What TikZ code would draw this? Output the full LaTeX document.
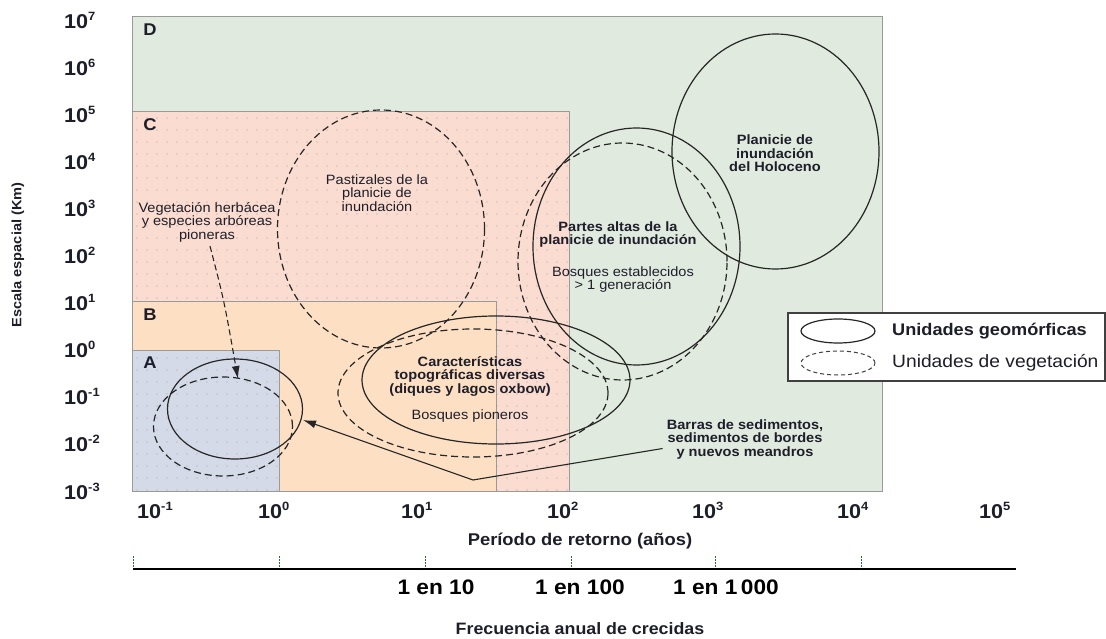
\documentclass[tikz,border=0pt]{standalone}
\usepackage{fontspec}
\setmainfont{Liberation Sans}[FakeStretch=1.08]
\usetikzlibrary{arrows.meta}
\definecolor{dgreen}{HTML}{E1EADF}
\definecolor{cpink}{HTML}{FBDCD0}
\definecolor{borange}{HTML}{FDE0C4}
\definecolor{ablue}{HTML}{D5DAE8}
\definecolor{edgec}{HTML}{9A9A9A}
\definecolor{ink}{HTML}{1E1E2A}
\definecolor{dotc}{HTML}{A89E9E}
\definecolor{tickc}{HTML}{2E6B3A}
\tikzset{
  txt/.style={text=ink, align=center, inner sep=0pt, font=\fontsize{13.5}{13.5}\selectfont},
  btxt/.style={text=ink, align=center, inner sep=0pt, font=\bfseries\fontsize{13.5}{13.5}\selectfont},
  zone/.style={draw=edgec, line width=1pt},
  zlet/.style={text=ink, inner sep=0pt, font=\bfseries\fontsize{17}{17}\selectfont},
  axl/.style={text=ink, inner sep=0pt, anchor=west, font=\bfseries\fontsize{20}{20}\selectfont},
  geo/.style={draw=black!85, line width=1.2pt},
  veg/.style={draw=black!85, line width=1.2pt, dash pattern=on 7pt off 4pt},
  arr/.style={-{Latex[length=13pt,width=8pt]}, draw=black!85, line width=1.1pt},
  ftick/.style={draw=tickc, line width=0.9pt, dash pattern=on 2pt off 1pt},
  botl/.style={text=black, inner sep=0pt, font=\bfseries\fontsize{21}{21}\selectfont}
}
\newcommand{\tenexp}[1]{10\raisebox{0.40em}{\fontsize{12}{12}\selectfont #1}}
\begin{document}
\begin{tikzpicture}[x=1pt,y=-1pt]
\useasboundingbox (0,0) rectangle (1106,639);
% zones
\fill[dgreen] (132,17) rectangle (882,491);
\fill[cpink] (132,112) rectangle (569,491);
\begin{scope}
\clip (132,112) rectangle (569,491);
\foreach \i in {0,...,44}{\foreach \j in {0,...,32}{\fill[dotc] (137+\i*10,118+\j*12) circle (0.6);}}
\end{scope}
\fill[borange] (132,301) rectangle (496,491);
\fill[ablue] (132,350) rectangle (279,491);
\begin{scope}
\clip (132,350) rectangle (279,491);
\foreach \i in {0,...,15}{\foreach \j in {0,...,12}{\fill[dotc] (137+\i*10,358+\j*12) circle (0.6);}}
\end{scope}
\draw[zone] (132,112) rectangle (569,491);
\draw[zone] (132,301) rectangle (496,491);
\draw[zone] (132,350) rectangle (279,491);
\draw[zone] (132,17) rectangle (882,491);
\node[zlet] (lD) at (150,30) {D};
\node[zlet] (lC) at (150,125) {C};
\node[zlet] (lB) at (150,315) {B};
\node[zlet] (lA) at (150,363) {A};
% y axis labels
\foreach \k [count=\n from 0] in {-3,-2,-1,0,1,2,3,4,5,6,7}{
  \node[axl] (y\n) at (64,{491-47.1*\n}) {\tenexp{\k}};
}
\node[text=ink, inner sep=0pt, rotate=90, font=\bfseries\fontsize{13.5}{13.5}\selectfont] (ytitle) at (18,255) {Escala espacial (Km)};
% x axis labels
\foreach \k/\xx [count=\n] in {-1/137,0/258,1/401,2/547,3/692,4/837,5/979}{
  \node[axl] (x\n) at (\xx,510) {\tenexp{\k}};
}
\node[text=ink, inner sep=0pt, font=\bfseries\fontsize{17}{17}\selectfont] (ptitle) at (580,541) {Período de retorno (años)};
% ellipses
\draw[geo] (235,409) ellipse [x radius=67.5pt, y radius=50pt];
\draw[veg] (223,426.5) ellipse [x radius=69.5pt, y radius=49.5pt];
\draw[veg] (381,229) ellipse [x radius=103.5pt, y radius=119pt];
\draw[geo] (496,380) ellipse [x radius=134pt, y radius=64pt];
\draw[veg] (473,393) ellipse [x radius=135pt, y radius=64pt];
\draw[geo] (636.5,246.5) ellipse [x radius=103.5pt, y radius=118.5pt];
\draw[veg] (622.5,261.5) ellipse [x radius=104.5pt, y radius=118.5pt];
\draw[geo] (775.5,151.5) ellipse [x radius=103.5pt, y radius=117.5pt];
% texts
\node[txt] (vegt) at (207,222) {Vegetación herbácea\\y especies arbóreas\\pioneras};
\node[txt] (past) at (377,193) {Pastizales de la\\planicie de\\inundación};
\node[btxt] (carac) at (470,376) {Características\\topográficas diversas\\(diques y lagos oxbow)};
\node[txt] (bosqp) at (470,416) {Bosques pioneros};
\node[btxt] (partes) at (618,234.5) {Partes altas de la\\planicie de inundación};
\node[txt] (bosqe) at (623,279.5) {Bosques establecidos\\> 1 generación};
\node[btxt] (holo) at (775,153.5) {Planicie de\\inundación\\del Holoceno};
\node[btxt] (barras) at (745,439.5) {Barras de sedimentos,\\sedimentos de bordes\\y nuevos meandros};
% arrows
\coordinate (vtip) at (238,379);
\coordinate (bend) at (473,480);
\coordinate (atip) at (303,420);
\draw[arr, dash pattern=on 6pt off 3.5pt] (vegt.south) ++(3,4) .. controls (224,300) .. (vtip);
\draw[arr] (barras.west) ++(-4,9) -- (bend) -- (atip);
% legend
\draw[draw=black!75, fill=white, line width=1.2pt] (788,313) rectangle (1105,381);
\node[inner sep=0pt] (legend) at (946.5,347) {};
\draw[geo] (838,331) ellipse [x radius=37pt, y radius=12pt];
\draw[draw=black!75, line width=1pt, dash pattern=on 4pt off 3pt] (838,363) ellipse [x radius=37pt, y radius=12pt];
\node[text=ink, inner sep=0pt, anchor=west, font=\bfseries\fontsize{16.8}{16.8}\selectfont] (lg1) at (892,331) {Unidades geomórficas};
\node[text=ink, inner sep=0pt, anchor=west, font=\fontsize{17.8}{17.8}\selectfont] (lg2) at (892,363) {Unidades de vegetación};
% bottom frequency axis
\draw[black, line width=2.5pt] (133,569) -- (1016,569);
\foreach \xx in {133,279,425,571,715,861}{\draw[ftick] (\xx,556) -- (\xx,568);}
\node[botl] (f10) at (436,587) {1 en 10};
\node[botl] (f100) at (580,587) {1 en 100};
\node[botl] (f1000) at (726,587) {1 en 1\,000};
\node[text=ink, inner sep=0pt, font=\bfseries\fontsize{16.5}{16.5}\selectfont] (ftitle) at (580,629) {Frecuencia anual de crecidas};
\end{tikzpicture}
\end{document}
